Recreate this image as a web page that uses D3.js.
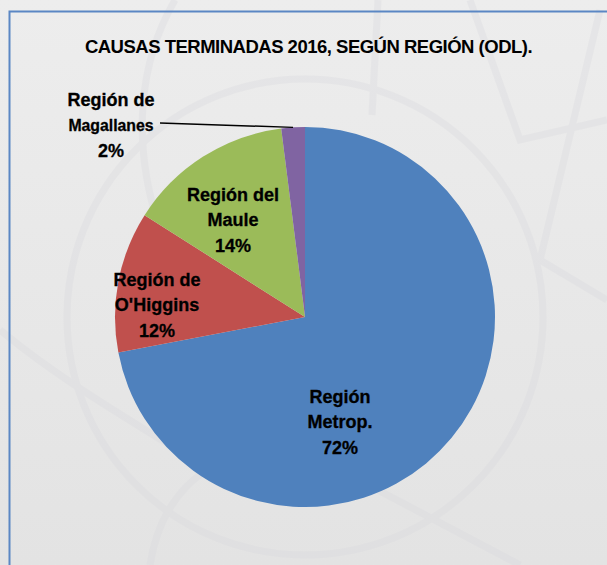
<!DOCTYPE html>
<html>
<head>
<meta charset="utf-8">
<script src="https://cdn.jsdelivr.net/npm/d3@7"></script>
<style>
  html, body { margin: 0; padding: 0; background: #e8e8e8; }
  #chart { width: 607px; height: 565px; }
</style>
</head>
<body>
<div id="chart"></div>
<script>
// Causas terminadas 2016 por región (ODL)
const chartTitle = "CAUSAS TERMINADAS 2016, SEGÚN REGIÓN (ODL).";
const regions = ["Región Metrop.", "Región de O'Higgins", "Región del Maule", "Región de Magallanes"];
const labelLines = [
    ["Región", "Metrop."],
    ["Región de", "O'Higgins"],
    ["Región del", "Maule"],
    ["Región de", "Magallanes"]
];
const shares = [72, 12, 14, 2];
const sliceColors = ["#4f81bd", "#c0504d", "#9bbb59", "#8064a2"];

const width = 607, height = 565;
const cx = 305, cy = 317, radius = 190;

const svg = d3.select("#chart")
    .append("svg")
    .attr("width", width)
    .attr("height", height);

// background
const defs = svg.append("defs");
const bgGrad = defs.append("linearGradient")
    .attr("id", "bg-grad")
    .attr("x1", 0).attr("y1", 0).attr("x2", 0).attr("y2", 1);
bgGrad.append("stop").attr("offset", "0%").attr("stop-color", "#ededed");
bgGrad.append("stop").attr("offset", "100%").attr("stop-color", "#e3e3e3");

svg.append("rect")
    .attr("width", width)
    .attr("height", height)
    .attr("fill", "url(#bg-grad)");

// faint network pattern behind the chart
const deco = svg.append("g")
    .attr("fill", "none")
    .attr("stroke", "#d9d9de")
    .attr("stroke-width", 7)
    .attr("opacity", 0.35);
deco.append("circle").attr("cx", cx).attr("cy", cy).attr("r", 238);
deco.append("path").attr("d", "M175,0 C140,60 130,140 160,230");
deco.append("path").attr("d", "M378,0 L372,115");
deco.append("path").attr("d", "M470,0 L520,140 L607,120");
deco.append("path").attr("d", "M0,330 C60,380 130,420 210,470");
deco.append("path").attr("d", "M150,565 C160,500 200,460 260,450");
deco.append("path").attr("d", "M340,470 L520,565");
deco.append("path").attr("d", "M600,10 L540,260 L607,300");

// border
svg.append("path")
    .attr("d", `M9.5,${height} V11.5 H${width}`)
    .attr("fill", "none")
    .attr("stroke", "#5b87c4")
    .attr("stroke-width", 2);

// title
svg.append("text")
    .attr("x", 308.5)
    .attr("y", 53)
    .attr("text-anchor", "middle")
    .attr("font-family", "'Liberation Sans', Arial, sans-serif")
    .attr("font-weight", "bold")
    .attr("font-size", "18.5px")
    .attr("letter-spacing", "-0.5px")
    .attr("fill", "#000")
    .text(chartTitle);

// pie
const pie = d3.pie().sort(null).value(d => d);
const arcs = pie(shares);
const arc = d3.arc().innerRadius(0).outerRadius(radius);

const g = svg.append("g").attr("transform", `translate(${cx},${cy})`);

g.selectAll("path.slice")
    .data(arcs)
    .enter()
    .append("path")
    .attr("class", "slice")
    .attr("d", arc)
    .attr("fill", (d, i) => sliceColors[i]);

// label placement (offsets from pie centre, middle line)
const labelOffsets = [[35, 105], [-148, -12], [-72, -97], [-194, -192]];
const lineGap = 25.5;

arcs.forEach((d, i) => {
    const [ox, oy] = labelOffsets[i];
    const lines = labelLines[i].concat([shares[i] + "%"]);
    const t = g.append("text")
        .attr("text-anchor", "middle")
        .attr("font-family", "'Liberation Sans', Arial, sans-serif")
        .attr("font-weight", "bold")
        .attr("font-size", "18px")
        .attr("stroke", "#000")
        .attr("stroke-width", 0.3)
        .attr("fill", "#000");
    lines.forEach((line, j) => {
        t.append("tspan")
            .attr("x", ox)
            .attr("y", oy + (j - 1) * lineGap + 6)
            .attr("font-size", (i === 3 && j === 1) ? "15.8px" : null)
            .text(line);
    });
});

// leader line for the small slice
const outerArc = d3.arc().innerRadius(radius).outerRadius(radius);
const [lx, ly] = outerArc.centroid(arcs[3]);
g.append("line")
    .attr("x1", -145)
    .attr("y1", -194)
    .attr("x2", lx)
    .attr("y2", ly)
    .attr("stroke", "#000")
    .attr("stroke-width", 1.5);
</script>
</body>
</html>
